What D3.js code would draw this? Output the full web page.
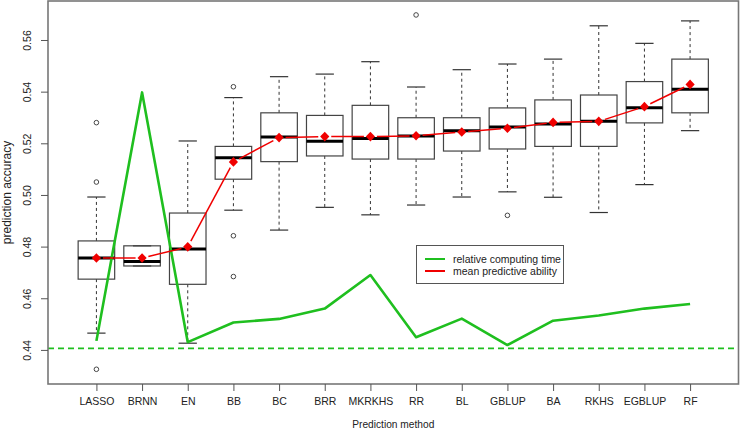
<!DOCTYPE html>
<html><head><meta charset="utf-8">
<script src="https://cdn.jsdelivr.net/npm/d3@7"></script>
<style>body{margin:0;background:#fff}svg{display:block}text{font-family:"Liberation Sans",Arial,sans-serif;fill:#222}</style>
</head><body><svg id="c" width="740" height="432"></svg>
<script>
const methods = ["LASSO","BRNN","EN","BB","BC","BRR","MKRKHS","RR","BL","GBLUP","BA","RKHS","EGBLUP","RF"];
const whiskerLow  = [0.4465,0.4725,0.4426,0.4941,0.4864,0.4952,0.4923,0.4961,0.4992,0.5012,0.4991,0.4932,0.5040,0.5249];
const q1          = [0.4674,0.4725,0.4654,0.5061,0.5129,0.5151,0.5139,0.5139,0.5170,0.5178,0.5188,0.5188,0.5279,0.5318];
const medians     = [0.4756,0.4742,0.4791,0.5144,0.5224,0.5208,0.5219,0.5228,0.5249,0.5263,0.5275,0.5285,0.5338,0.5409];
const q3          = [0.4822,0.4803,0.4930,0.5188,0.5318,0.5308,0.5347,0.5299,0.5299,0.5337,0.5368,0.5387,0.5439,0.5526];
const whiskerHigh = [0.4992,0.4803,0.5209,0.5377,0.5458,0.5468,0.5516,0.5418,0.5485,0.5507,0.5526,0.5655,0.5587,0.5674];
const outliers    = [[0.528,0.505,0.4325],[],[],[0.5419,0.4842,0.4684],[],[],[],[0.5697],[],[0.4921],[],[],[],[]];
const means       = [0.4756,0.4756,0.4799,0.5128,0.5222,0.5226,0.5226,0.5229,0.5244,0.5258,0.5281,0.5285,0.5342,0.5428];
const computingTime = [0.4435,0.5397,0.4430,0.4506,0.4520,0.4560,0.4690,0.4449,0.4521,0.4419,0.4513,0.4533,0.4560,0.4578];
const baseline = 0.4406;
const yTicks = [0.44,0.46,0.48,0.50,0.52,0.54,0.56];
const legendLabels = ["relative computing time","mean predictive ability"];

const svg = d3.select("#c");
const L=48, R=738.5, T=1, B=384;
const x = d3.scalePoint().domain(methods).range([L,R]).padding(1.06);
const y = d3.scaleLinear().domain([0.4268,0.5751]).range([B,T]);
const bw = x.step()*0.8;
const green = "#1fbf1f", red = "#f00000";

// boxes
const g = svg.append("g");
methods.forEach((m,i)=>{
  const cx = x(m);
  const bx = g.append("g");
  bx.append("line").attr("x1",cx).attr("x2",cx).attr("y1",y(q3[i])).attr("y2",y(whiskerHigh[i]))
    .attr("stroke","#333").attr("stroke-width",1).attr("stroke-dasharray","3,3");
  bx.append("line").attr("x1",cx).attr("x2",cx).attr("y1",y(q1[i])).attr("y2",y(whiskerLow[i]))
    .attr("stroke","#333").attr("stroke-width",1).attr("stroke-dasharray","3,3");
  [whiskerHigh[i],whiskerLow[i]].forEach(v=>{
    bx.append("line").attr("x1",cx-bw/4).attr("x2",cx+bw/4).attr("y1",y(v)).attr("y2",y(v))
      .attr("stroke","#333").attr("stroke-width",1.2);
  });
  bx.append("rect").attr("x",cx-bw/2).attr("y",y(q3[i])).attr("width",bw).attr("height",y(q1[i])-y(q3[i]))
    .attr("fill","none").attr("stroke","#444").attr("stroke-width",1.2);
  bx.append("line").attr("x1",cx-bw/2).attr("x2",cx+bw/2).attr("y1",y(medians[i])).attr("y2",y(medians[i]))
    .attr("stroke","#000").attr("stroke-width",3);
  outliers[i].forEach(v=>{
    bx.append("circle").attr("cx",cx).attr("cy",y(v)).attr("r",2.3).attr("fill","none").attr("stroke","#333").attr("stroke-width",0.9);
  });
});

// baseline dashed
svg.append("line").attr("x1",L).attr("x2",R).attr("y1",y(baseline)).attr("y2",y(baseline))
  .attr("stroke",green).attr("stroke-width",1.6).attr("stroke-dasharray","6,4");

// green computing line
svg.append("path").datum(computingTime)
  .attr("d",d3.line().x((d,i)=>x(methods[i])).y(d=>y(d)))
  .attr("fill","none").attr("stroke",green).attr("stroke-width",2.6).attr("stroke-linejoin","round");

// red mean line (type b: gaps around points)
const gap = 6.5;
for(let i=0;i<means.length-1;i++){
  const x1=x(methods[i]), y1=y(means[i]), x2=x(methods[i+1]), y2=y(means[i+1]);
  const len=Math.hypot(x2-x1,y2-y1);
  if(len<=2*gap) continue;
  const ux=(x2-x1)/len, uy=(y2-y1)/len;
  svg.append("line").attr("x1",x1+ux*gap).attr("y1",y1+uy*gap).attr("x2",x2-ux*gap).attr("y2",y2-uy*gap)
    .attr("stroke",red).attr("stroke-width",1.5);
}
svg.append("g").selectAll("path").data(means).join("path")
  .attr("transform",(d,i)=>`translate(${x(methods[i])},${y(d)})`)
  .attr("d","M0,-4.8L4.6,0L0,4.8L-4.6,0Z").attr("fill",red);

// frame
svg.append("rect").attr("x",L).attr("y",T).attr("width",R-L).attr("height",B-T)
  .attr("fill","none").attr("stroke","#777").attr("stroke-width",1.6);

// x axis
const xa = svg.append("g").attr("transform",`translate(0,${B})`)
  .call(d3.axisBottom(x).tickSize(7).tickPadding(6));
xa.select(".domain").remove();
xa.selectAll("line").attr("stroke","#555");
xa.selectAll("text").attr("font-size","10.5px").attr("font-family","Liberation Sans, Arial, sans-serif").attr("fill","#222").attr("dy","0.75em");

// y axis
const ya = svg.append("g").attr("transform",`translate(${L},0)`)
  .call(d3.axisLeft(y).tickValues(yTicks).tickFormat(d3.format(".2f")).tickSize(7).tickPadding(4));
ya.select(".domain").remove();
ya.selectAll("line").attr("stroke","#555");
ya.selectAll("text").attr("font-size","10.5px").attr("font-family","Liberation Sans, Arial, sans-serif").attr("fill","#222")
  .each(function(){
    d3.select(this).attr("x",null).attr("dy",null).attr("text-anchor","middle")
     .attr("transform","translate(-17,0) rotate(-90)");
  });

// axis titles
svg.append("text").attr("x",(L+R)/2).attr("y",428).attr("text-anchor","middle").attr("font-size","10.2px").text("Prediction method");
svg.append("text").attr("transform",`translate(10.5,${(T+B)/2}) rotate(-90)`).attr("text-anchor","middle").attr("font-size","12px").text("prediction accuracy");

// legend
const lg = svg.append("g");
lg.append("rect").attr("x",416.5).attr("y",245.5).attr("width",147).attr("height",38).attr("fill","#fff").attr("stroke","#555").attr("stroke-width",1);
[green,red].forEach((c,i)=>{
  const yy = 259 + i*12;
  lg.append("line").attr("x1",425).attr("x2",445).attr("y1",yy).attr("y2",yy).attr("stroke",c).attr("stroke-width",2);
  lg.append("text").attr("x",453).attr("y",yy+3.8).attr("font-size","10.5px").text(legendLabels[i]);
});
</script></body></html>
